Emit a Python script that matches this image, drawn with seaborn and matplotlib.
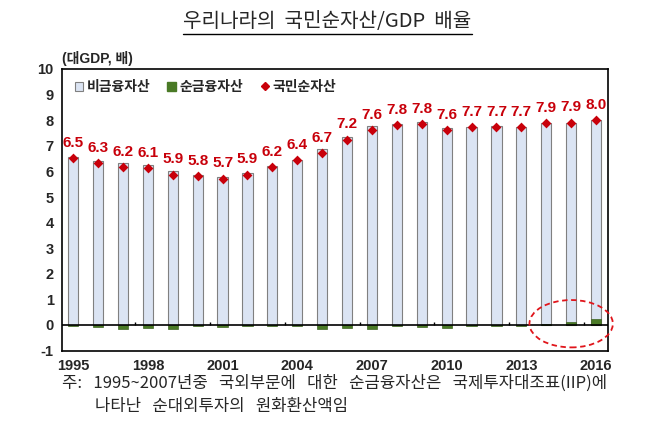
import numpy as np
import pandas as pd
import matplotlib
matplotlib.use("Agg")
import matplotlib.pyplot as plt
import seaborn as sns
from matplotlib.patches import Patch, Ellipse
from matplotlib.lines import Line2D

years = [str(y) for y in range(1995, 2017)]
# 국민순자산 / GDP (배)
total = [6.51, 6.31, 6.18, 6.14, 5.87, 5.81, 5.72, 5.87, 6.17, 6.43, 6.72,
         7.24, 7.62, 7.81, 7.84, 7.60, 7.72, 7.73, 7.72, 7.88, 7.90, 8.00]
# 순금융자산 / GDP
netfin = [-0.05, -0.08, -0.15, -0.10, -0.15, -0.03, -0.08, -0.05, -0.05, -0.03, -0.15,
          -0.12, -0.15, -0.05, -0.08, -0.10, -0.03, -0.03, -0.02, 0.03, 0.13, 0.22]
xtick_years = ["1995", "1998", "2001", "2004", "2007", "2010", "2013", "2016"]

df = pd.DataFrame({"year": years, "total": total, "netfin": netfin})
df["nonfin"] = df["total"] - df["netfin"]
df["bar_top"] = df["nonfin"] + df["netfin"].clip(lower=0)

sns.set_style("white")
plt.rcParams["font.family"] = ["Liberation Sans", "Noto Sans CJK KR", "DejaVu Sans"]

blue = "#dbe4f3"
green = "#4a7a26"
red = "#c8000a"
kr = ["Noto Sans CJK KR", "DejaVu Sans"]

fig = plt.figure(figsize=(6.55, 4.26), dpi=100)
ax = fig.add_axes([62 / 655, 1 - 350.6 / 426, 546 / 655, 281.6 / 426])

sns.barplot(data=df, x="year", y="bar_top", color=blue, width=0.41,
            edgecolor="#808080", linewidth=0.8, saturation=1, ax=ax)
sns.barplot(data=df, x="year", y="netfin", color=green, width=0.41,
            edgecolor="#3d6220", linewidth=0.5, saturation=1, ax=ax)
sns.stripplot(data=df, x="year", y="total", jitter=False, marker="D", size=5,
              color=red, linewidth=0, ax=ax, zorder=5)

for i, v in enumerate(total):
    ax.annotate(f"{v:.1f}", (i, v), xytext=(0, 11), textcoords="offset points",
                ha="center", va="center", color=red, fontsize=11, fontweight="bold")

ax.axhline(0, color="black", lw=1.2, zorder=4)
ax.vlines(np.arange(2.5, 21, 3), 0, 0.13, color="black", lw=1, zorder=4)

ax.set_xlim(-0.45, 21.48)
ax.set_ylim(-1, 10)
ax.set_yticks(range(-1, 11))
ax.set_yticklabels([str(t) for t in range(-1, 11)], fontsize=10.5, fontweight="bold")
pos = [years.index(y) for y in xtick_years]
ax.set_xticks(pos)
ax.set_xticklabels(xtick_years, fontsize=10.5, fontweight="bold")
ax.tick_params(axis="x", length=0, pad=6)
ax.tick_params(axis="y", direction="in", length=3, pad=6)
ax.set_xlabel("")
ax.set_ylabel("")
for s in ax.spines.values():
    s.set_color("black")
    s.set_linewidth(1.2)

ell = Ellipse((20.0, 0.05), 3.35, 1.85, fill=False, edgecolor="#e0151b",
              linestyle=(0, (3, 2)), lw=1.3, clip_on=False, zorder=6)
ax.add_patch(ell)

handles = [
    Patch(facecolor=blue, edgecolor="#808080", lw=0.8),
    Patch(facecolor=green, edgecolor=green),
    Line2D([], [], marker="D", color=red, lw=0, markersize=4),
]
leg = ax.legend(handles, ["비금융자산", "순금융자산", "국민순자산"], ncol=3,
                loc="center left", bbox_to_anchor=(0.0, 0.936), frameon=False,
                handlelength=0.6, handleheight=0.6, handletextpad=0.3,
                columnspacing=1.2, prop={"size": 10, "weight": "bold"})

fig.text(62 / 655, 1 - 58 / 426, "(대GDP, 배)", fontsize=10, fontweight="bold",
         ha="left", va="center")

title = fig.text(0.5, 1 - 22 / 426, "우리나라의  국민순자산/GDP  배율", fontsize=14.5,
                 ha="center", va="center", family=kr)
fig.canvas.draw()
bb = title.get_window_extent().transformed(fig.transFigure.inverted())
fig.add_artist(Line2D([bb.x0, bb.x1], [bb.y0 - 0.004, bb.y0 - 0.004],
                      color="black", lw=1, transform=fig.transFigure))

fig.text(62 / 655, 1 - 383 / 426,
         "주:   1995~2007년중   국외부문에   대한   순금융자산은   국제투자대조표(IIP)에",
         fontsize=12, ha="left", va="center", family=kr)
fig.text(95 / 655, 1 - 407 / 426, "나타난   순대외투자의   원화환산액임",
         fontsize=12, ha="left", va="center", family=kr)

fig.savefig("out.png", dpi=100)
